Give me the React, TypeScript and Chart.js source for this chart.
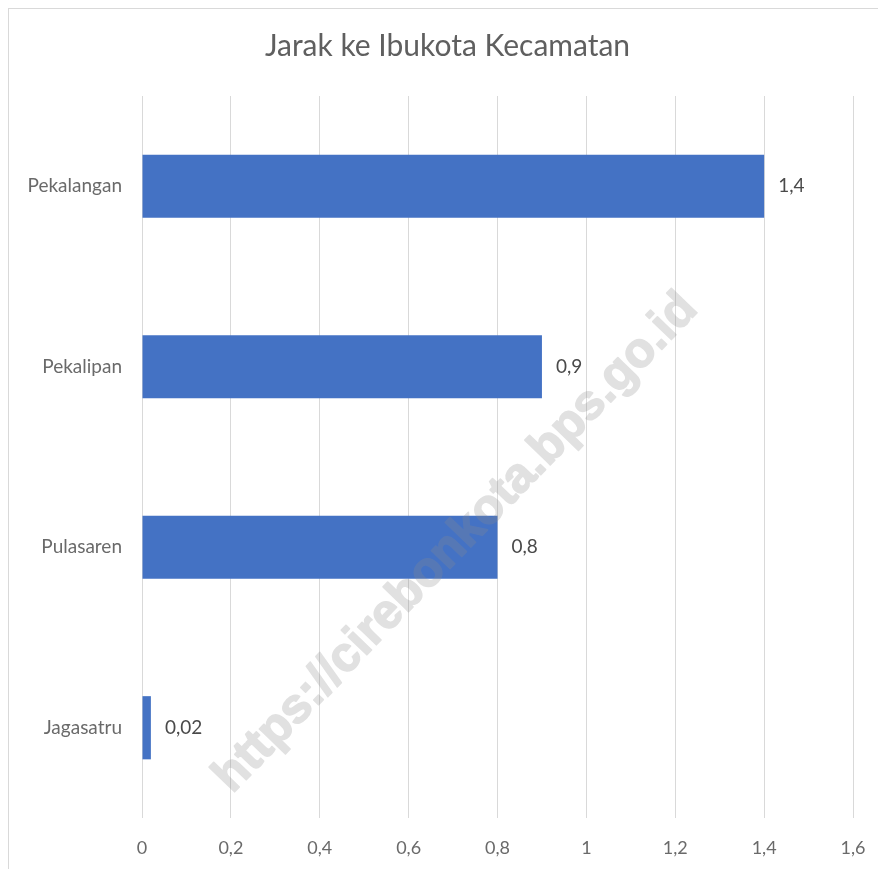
import React, { useEffect, useRef } from "react";
import { Chart, registerables } from "chart.js";

Chart.register(...registerables);

const title = "Jarak ke Ibukota Kecamatan";
const categories = ["Pekalangan", "Pekalipan", "Pulasaren", "Jagasatru"];
const values = [1.4, 0.9, 0.8, 0.02];
const xTickLabels = ["0", "0,2", "0,4", "0,6", "0,8", "1", "1,2", "1,4", "1,6"];
const watermark = "https://cirebonkota.bps.go.id";

const FONT = "Lato, 'Noto Sans', sans-serif";
const fmt = (v: number) => String(v).replace(".", ",");

const titlePlugin = {
  id: "centeredTitle",
  afterDraw(chart: any) {
    const ctx = chart.ctx;
    ctx.save();
    ctx.font = `30px ${FONT}`;
    ctx.fillStyle = "#5f5f5f";
    ctx.textAlign = "center";
    ctx.textBaseline = "middle";
    ctx.fillText(title, chart.width / 2, 37);
    ctx.restore();
  },
};

const labelPlugin = {
  id: "valueLabels",
  afterDatasetsDraw(chart: any) {
    const ctx = chart.ctx;
    const meta = chart.getDatasetMeta(0);
    ctx.save();
    ctx.font = `19px ${FONT}`;
    ctx.fillStyle = "#4a4a4a";
    ctx.textAlign = "left";
    ctx.textBaseline = "middle";
    meta.data.forEach((bar: any, i: number) => {
      ctx.fillText(fmt(values[i]), bar.x + 14, bar.y);
    });
    ctx.restore();
  },
};

const watermarkPlugin = {
  id: "watermark",
  afterDraw(chart: any) {
    const ctx = chart.ctx;
    const w = chart.width;
    const h = chart.height;
    const off = document.createElement("canvas");
    off.width = w;
    off.height = h;
    const o = off.getContext("2d")!;
    o.translate(456 - 9, 543 - 9);
    o.rotate((-46 * Math.PI) / 180);
    o.font = "bold 49px 'Liberation Sans', Arial, sans-serif";
    o.fillStyle = "#8c8c8c";
    o.strokeStyle = "#8c8c8c";
    o.lineWidth = 1.6;
    o.lineJoin = "round";
    o.textAlign = "center";
    o.textBaseline = "middle";
    o.fillText(watermark, 0, 0);
    o.strokeText(watermark, 0, 0);
    ctx.save();
    ctx.globalAlpha = 0.26;
    ctx.drawImage(off, 0, 0, w, h);
    ctx.restore();
  },
};

export default function App() {
  const ref = useRef<HTMLCanvasElement | null>(null);
  useEffect(() => {
    if (!ref.current) return;
    const chart = new Chart(ref.current, {
      type: "bar",
      data: {
        labels: categories,
        datasets: [
          {
            data: values,
            backgroundColor: "#4472C4",
            barPercentage: 0.35,
            categoryPercentage: 1,
          },
        ],
      },
      options: {
        indexAxis: "y",
        animation: false,
        responsive: true,
        maintainAspectRatio: false,
        layout: { padding: { left: 0, right: 33, top: 87, bottom: 0 } },
        plugins: {
          legend: { display: false },
          tooltip: { enabled: false },
          title: { display: false },
        },
        scales: {
          x: {
            min: 0,
            max: 1.6,
            ticks: {
              stepSize: 0.2,
              color: "#6a6a6a",
              font: { family: FONT, size: 18 },
              padding: 19,
              callback: (_v: any, i: number) => xTickLabels[i],
            },
            grid: { color: "#d9d9d9", drawTicks: false },
            border: { display: false },
            afterFit: (s: any) => {
              s.height = 51;
            },
          },
          y: {
            ticks: {
              color: "#6a6a6a",
              font: { family: FONT, size: 19 },
              padding: 20,
            },
            grid: { display: false, drawTicks: false },
            border: { display: false },
            afterFit: (s: any) => {
              s.width = 133;
            },
          },
        },
      },
      plugins: [titlePlugin, labelPlugin, watermarkPlugin],
    });
    return () => chart.destroy();
  }, []);

  return (
    <div
      style={{
        width: 878,
        height: 861,
        boxSizing: "border-box",
        borderTop: "1px solid #d9d9d9",
        borderLeft: "1px solid #d9d9d9",
        background: "#fff",
        position: "relative",
      }}
    >
      <canvas ref={ref} />
    </div>
  );
}
